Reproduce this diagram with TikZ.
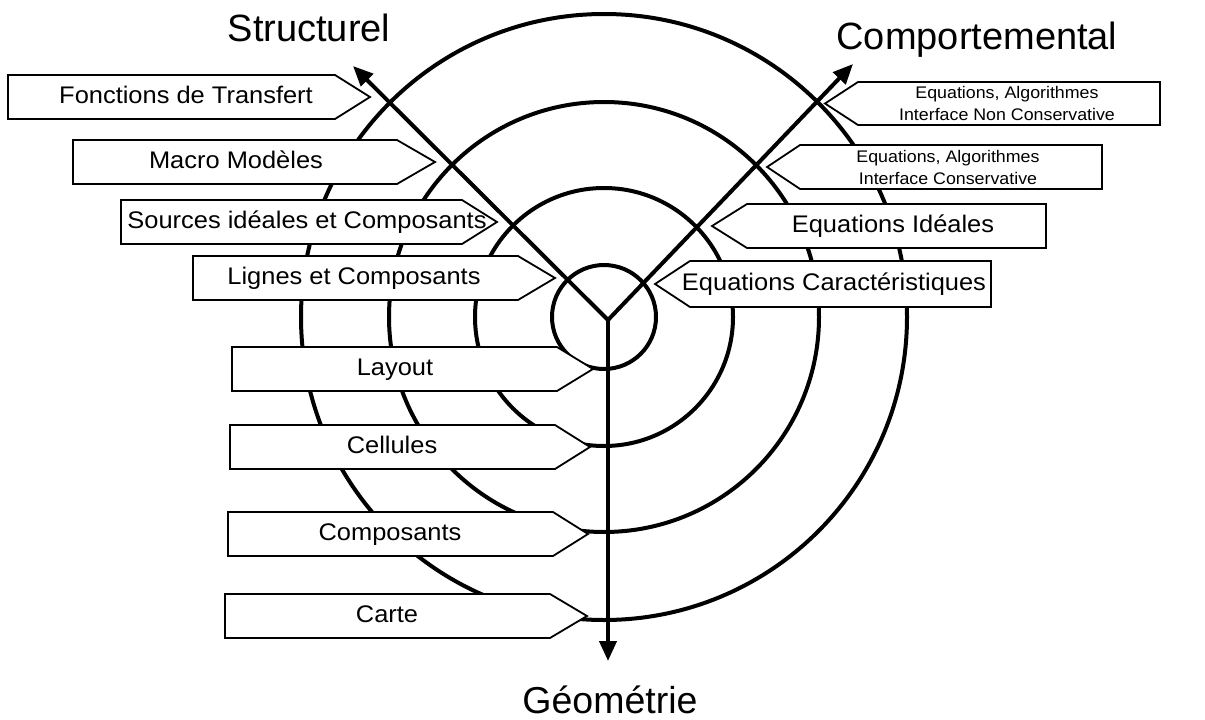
\documentclass[tikz,border=0pt]{standalone}
\usepackage{fontspec}
\setmainfont{Liberation Sans}
\newfontfamily\widesans[FakeStretch=1.06]{Liberation Sans}
\usetikzlibrary{arrows.meta}
\tikzset{
  ring/.style={line width=4pt},
  tagbox/.style={draw, line width=1.8pt, fill=white, line join=miter},
  tagtext/.style={font=\widesans\fontsize{24}{28}\selectfont, inner sep=0pt, text height=17pt, text depth=5pt},
  smalltext/.style={font=\widesans\fontsize{16.8}{22}\selectfont, inner sep=0pt, align=center},
  axisarrow/.style={line width=4pt, -{Triangle[length=20pt,width=17pt]}},
  titletext/.style={anchor=base, inner sep=0pt}
}
% left tag pointing right: name, xl, yt, yb, xs, xt, textx, text
\newcommand\LTag[8]{%
  \draw[tagbox] (#2,#3) -- (#5,#3) -- (#6,{(#3+#4)/2}) -- (#5,#4) -- (#2,#4) -- cycle;
  \node[tagtext] (#1) at (#7,{(#3+#4)/2}) {#8};}
% right tag pointing left: name, xr, yt, yb, xs, xt, textx, text
\newcommand\RTag[8]{%
  \draw[tagbox] (#2,#3) -- (#5,#3) -- (#6,{(#3+#4)/2}) -- (#5,#4) -- (#2,#4) -- cycle;
  \node[tagtext] (#1) at (#7,{(#3+#4)/2}) {#8};}
\newcommand\RTagTwo[8]{%
  \draw[tagbox] (#2,#3) -- (#5,#3) -- (#6,{(#3+#4)/2}) -- (#5,#4) -- (#2,#4) -- cycle;
  \node[smalltext] (#1) at (#7,{(#3+#4)/2}) {#8};}
\begin{document}
\begin{tikzpicture}[x=1pt,y=-1pt]
\useasboundingbox (0,0) rectangle (1205,720);
\fill[white] (0,0) rectangle (1205,720);
% circles
\coordinate (C) at (604,317);
\draw[ring] (C) circle[radius=52];
\draw[ring] (C) circle[radius=129];
\draw[ring] (C) circle[radius=215];
\draw[ring] (C) circle[radius=303];
% left tags
\LTag{fonc}{8}{75}{119}{335}{370}{186}{Fonctions de Transfert}
\LTag{macro}{73}{140}{184}{397}{435}{236}{Macro Modèles}
\LTag{sources}{121}{200}{244}{462}{497}{307}{Sources idéales et Composants}
\LTag{lignes}{193}{256}{300}{518}{555}{354}{Lignes et Composants}
\LTag{layout}{232}{347}{391}{557}{593}{395}{Layout}
\LTag{cellules}{230}{425}{469}{555}{590}{392}{Cellules}
\LTag{composants}{228}{512}{556}{553}{588}{390}{Composants}
\LTag{carte}{225}{594}{638}{550}{587}{387}{Carte}
% right tags
\RTagTwo{nonc}{1160}{82}{125}{858}{825}{1007}{Equations, Algorithmes\\Interface Non Conservative}
\RTagTwo{cons}{1102}{145}{189}{800}{767}{948}{Equations, Algorithmes\\Interface Conservative}
\RTag{ideal}{1046}{204}{248}{747}{712}{893}{Equations Idéales}
\RTag{carac}{991}{261}{307}{690}{655}{834}{Equations Caractéristiques}
% Y axes
\coordinate (O) at (608,320);
\coordinate (tS) at (353,66);
\coordinate (tC) at (853,64);
\coordinate (tG) at (608,661);
\draw[axisarrow] (O) -- (tS);
\draw[axisarrow] (O) -- (tC);
\draw[axisarrow] (O) -- (tG);
% titles
\node[titletext, font=\fontsize{38}{44}\selectfont] (structurel) at (309,41) {Structurel};
\node[titletext, font=\fontsize{38}{44}\selectfont] (comportemental) at (977,49) {Comportemental};
\node[titletext, font=\fontsize{37.5}{44}\selectfont] (geometrie) at (610,713) {Géométrie};
\end{tikzpicture}
\end{document}
